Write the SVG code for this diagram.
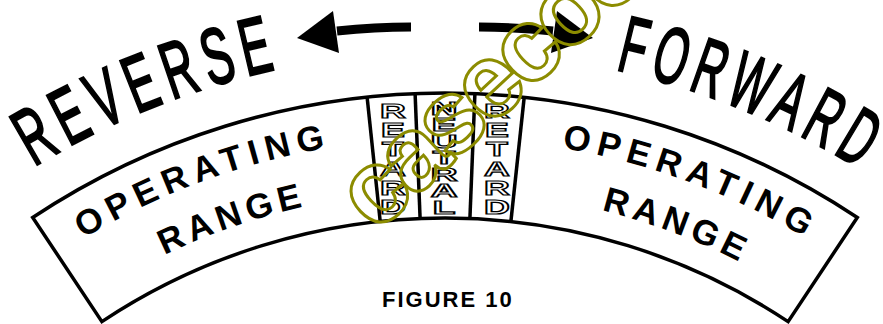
<svg xmlns="http://www.w3.org/2000/svg" width="883" height="324" viewBox="0 0 883 324">
<style>
.band{fill:#fff;stroke:#000;stroke-width:3.5;stroke-linejoin:miter}
.div{fill:none;stroke:#000;stroke-width:3.5}
.big{font-family:"Liberation Sans",Arial,sans-serif;font-size:80px;letter-spacing:14px;fill:#000;stroke:#000;stroke-width:2.4}
.op{font-family:"Liberation Sans",Arial,sans-serif;font-weight:bold;font-size:35px;fill:#000}
.box{font-family:"Liberation Sans",Arial,sans-serif;font-weight:bold;fill:#fff;stroke:#000;stroke-width:1.2;text-anchor:middle}
.cap{font-family:"Liberation Sans",Arial,sans-serif;font-weight:bold;font-size:22px;letter-spacing:2px;fill:#000}
.wm{font-family:"Liberation Sans",Arial,sans-serif;font-weight:bold;font-size:104px;letter-spacing:-6px;fill:none;stroke:#8c8c00;stroke-width:3}
.shaft{fill:none;stroke:#000;stroke-width:9}
</style>
<defs>
<path id="pRev" d="M33.8,167 A787,787 0 0 1 274.7,69.7 A787,787 0 0 1 300,65"/>
<path id="pFwd" d="M615.3,69.7 A787,787 0 0 1 873.6,178 A787,787 0 0 1 890,190"/>
<path id="pOpL" d="M83.4,238.6 A700,700 0 0 1 325.9,148.2"/>
<path id="pOpR" d="M561.8,147.8 A700,700 0 0 1 804.5,237.3"/>
<path id="pRaL" d="M164.4,255 A647,647 0 0 1 302.8,206.9"/>
<path id="pRaR" d="M601.5,210.2 A647,647 0 0 1 738.7,261.5"/>
</defs>
<g id="band">
<path class="band" d="M32.7,217.5 A745,745 0 0 1 857.3,217.5 L788.1,321.6 A620,620 0 0 0 101.9,321.6 Z"/>
</g>
<g id="left-range">
<text class="op"><textPath href="#pOpL" textLength="260">OPERATING</textPath></text>
<text class="op"><textPath href="#pRaL" textLength="147">RANGE</textPath></text>
</g>
<g id="right-range">
<text class="op"><textPath href="#pOpR" textLength="260">OPERATING</textPath></text>
<text class="op"><textPath href="#pRaR" textLength="147">RANGE</textPath></text>
</g>
<g id="retard-left">
<line class="div" x1="367.1" y1="97.1" x2="380.2" y2="221.4"/>
<g transform="translate(393,0) scale(1.7,1)">
<text class="box" font-size="21"><tspan x="0" y="118">R</tspan><tspan x="0" y="137">E</tspan><tspan x="0" y="156">T</tspan><tspan x="0" y="176">A</tspan><tspan x="0" y="195">R</tspan><tspan x="0" y="214">D</tspan></text>
</g>
</g>
<g id="neutral">
<line class="div" x1="415.1" y1="93.6" x2="420.1" y2="218.5"/>
<line class="div" x1="474.9" y1="93.6" x2="469.9" y2="218.5"/>
<g transform="translate(444,0) scale(2,1)">
<text class="box" font-size="18.5"><tspan x="0" y="115">N</tspan><tspan x="0" y="131.5">E</tspan><tspan x="0" y="148">U</tspan><tspan x="0" y="164.5">T</tspan><tspan x="0" y="181">R</tspan><tspan x="0" y="197.5">A</tspan><tspan x="0" y="214">L</tspan></text>
</g>
</g>
<g id="retard-right">
<line class="div" x1="524.2" y1="97.2" x2="510.9" y2="221.5"/>
<g transform="translate(497,0) scale(1.7,1)">
<text class="box" font-size="21"><tspan x="0" y="118">R</tspan><tspan x="0" y="137">E</tspan><tspan x="0" y="156">T</tspan><tspan x="0" y="176">A</tspan><tspan x="0" y="195">R</tspan><tspan x="0" y="214">D</tspan></text>
</g>
</g>
<g id="reverse">
<text class="big"><textPath href="#pRev" textLength="270" lengthAdjust="spacingAndGlyphs">REVERSE</textPath></text>
</g>
<g id="forward">
<text class="big"><textPath href="#pFwd" textLength="272" lengthAdjust="spacingAndGlyphs">FORWARD</textPath></text>
</g>
<g id="connectors">
<path class="shaft" d="M411,27 Q375,27 337,31"/>
<polygon points="297,38 333,11 339,53" fill="#000"/>
<path class="shaft" d="M479,27 Q515,27 553,31"/>
<polygon points="593,38 557,11 551,53" fill="#000"/>
</g>
<g id="caption">
<text class="cap" x="382" y="307">FIGURE 10</text>
</g>
<g id="watermark">
<text class="wm" transform="translate(376,234) rotate(-43)">casecoo</text>
</g>
</svg>
